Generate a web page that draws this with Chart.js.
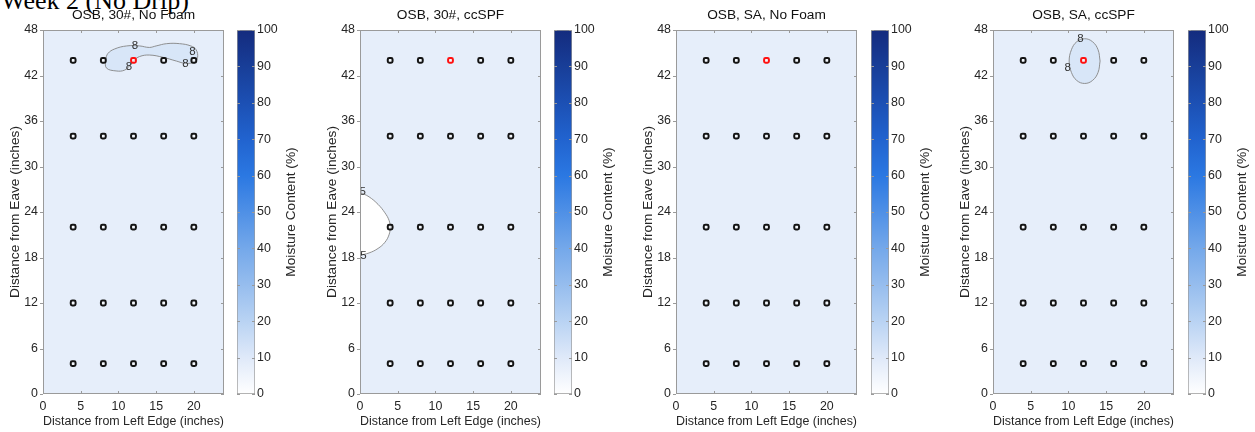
<!DOCTYPE html>
<html>
<head>
<meta charset="utf-8">
<script src="https://cdn.jsdelivr.net/npm/chart.js@4/dist/chart.umd.min.js"></script>
<style>
  html, body { margin: 0; padding: 0; background: #fff; }
  #wrap { position: relative; width: 1255px; height: 432px; overflow: hidden; }
  #wrap canvas { position: absolute; top: 0; }
  #suptitle {
    position: absolute; left: 1px; top: -12px; line-height: 26px;
    font-size: 26px; font-family: "Liberation Serif", "Times New Roman", serif;
    white-space: nowrap; color: #000;
  }
</style>
</head>
<body>
<div id="wrap">
  <div id="suptitle">Week 2 (No Drip)</div>
</div>
<script>
// sensor positions (inches)
var sensorX = [4, 8, 12, 16, 20];
var sensorY = [4, 12, 22, 34, 44];
var hotSensor = [12, 44]; // drawn red

var panelTitles = ['OSB, 30#, No Foam', 'OSB, 30#, ccSPF', 'OSB, SA, No Foam', 'OSB, SA, ccSPF'];

var xTitle = 'Distance from Left Edge (inches)';
var yTitle = 'Distance from Eave (inches)';
var cbarLabel = 'Moisture Content (%)';
var xMax = 24, xStep = 5;
var yMax = 48, yStep = 6;
var cbarMax = 100, cbarStep = 10;

// contour lines
var c1x = [8.3, 8.6, 9.5, 11.1, 12.8, 14.1, 15.0, 16.4, 18.1, 19.6, 20.3, 20.5, 20.1, 18.9, 17.7, 15.9, 14.1, 12.8, 12.1, 11.5, 10.8, 9.7, 8.4, 8.3];
var c1y = [44.1, 44.9, 45.5, 45.9, 45.9, 45.7, 45.9, 46.2, 46.2, 45.9, 45.4, 44.4, 43.8, 43.6, 43.9, 44.4, 44.7, 44.5, 44.0, 43.3, 42.7, 42.6, 43.0, 44.1];
var c1labels = [[12.2, 45.9, '8'], [11.4, 43.2, '8'], [18.9, 43.5, '8'], [19.8, 45.1, '8']];

var c2x = [0, 1.2, 2.4, 3.3, 3.85, 4.0, 3.85, 3.3, 2.4, 1.2, 0];
var c2y = [26.6, 26.0, 25.0, 23.9, 22.9, 22.0, 21.0, 20.0, 19.2, 18.6, 18.3];
var c2labels = [[0.35, 26.6, '5'], [0.45, 18.2, '5']];

var c4x = [14.2, 13.93, 13.2, 12.15, 11.1, 10.4, 10.1, 10.4, 11.1, 12.15, 13.2, 13.93, 14.2];
var c4y = [43.9, 45.4, 46.45, 46.85, 46.45, 45.4, 43.9, 42.4, 41.35, 40.95, 41.35, 42.4, 43.9];
var c4labels = [[11.6, 46.8, '8'], [9.9, 43.0, '8']];

// colormap stops (white -> blue -> navy)
var cmapLevels = [0, 10, 20, 30, 40, 50, 60, 70, 80, 90, 100];
var cmapColors = ['#ffffff', '#dfe9f9', '#b9d3f3', '#96bdee', '#74a8ea', '#4f90e6', '#2b78e2', '#2163cf', '#1c50b4', '#183e98', '#142b7e'];

var fam = '"Liberation Sans", Arial, Helvetica, sans-serif';
Chart.defaults.font.family = fam;
Chart.defaults.color = '#262626';

var panelLeft = [0, 317, 633, 950];
var cbarLeft = [237, 554, 871, 1188];
var plotBg = '#e6eefa';

var contours = [
  [{ x: c1x, y: c1y, fill: '#d8e6f8', labels: c1labels }],
  [{ x: c2x, y: c2y, fill: '#ffffff', labels: c2labels }],
  [],
  [{ x: c4x, y: c4y, fill: '#d8e6f8', labels: c4labels }]
];

var wrap = document.getElementById('wrap');
function addCanvas(left, w) {
  var c = document.createElement('canvas');
  c.width = w;
  c.height = 432;
  c.style.left = left + 'px';
  wrap.appendChild(c);
  return c;
}

function zip(xs, ys) {
  return xs.map(function (x, k) { return { x: x, y: ys[k] }; });
}

function panelPlugin(i) {
  return {
    id: 'panel' + i,
    beforeDraw: function (chart) {
      var a = chart.chartArea, ctx = chart.ctx;
      ctx.save();
      ctx.fillStyle = plotBg;
      ctx.fillRect(a.left, a.top, a.right - a.left, a.bottom - a.top);
      ctx.restore();
    },
    afterDatasetsDraw: function (chart) {
      var ctx = chart.ctx, sx = chart.scales.x, sy = chart.scales.y;
      ctx.save();
      ctx.font = '11.5px ' + fam;
      ctx.fillStyle = '#333';
      ctx.textAlign = 'center';
      ctx.textBaseline = 'middle';
      contours[i].forEach(function (c) {
        c.labels.forEach(function (l) {
          ctx.fillText(l[2], sx.getPixelForValue(l[0]), sy.getPixelForValue(l[1]));
        });
      });
      ctx.restore();
    },
    afterDraw: function (chart) {
      var a = chart.chartArea, ctx = chart.ctx, sx = chart.scales.x, sy = chart.scales.y;
      ctx.save();
      ctx.strokeStyle = '#9a9a9a';
      ctx.lineWidth = 1;
      ctx.beginPath();
      sx.ticks.forEach(function (t) {
        var px = Math.round(sx.getPixelForValue(t.value)) + 0.5;
        ctx.moveTo(px, a.bottom); ctx.lineTo(px, a.bottom - 3);
        ctx.moveTo(px, a.top); ctx.lineTo(px, a.top + 3);
      });
      sy.ticks.forEach(function (t) {
        var py = Math.round(sy.getPixelForValue(t.value)) + 0.5;
        ctx.moveTo(a.left - 3, py); ctx.lineTo(a.left, py);
        ctx.moveTo(a.right, py); ctx.lineTo(a.right - 3, py);
      });
      ctx.stroke();
      ctx.strokeRect(Math.round(a.left) + 0.5, Math.round(a.top) + 0.5,
        Math.round(a.right - a.left) - 1, Math.round(a.bottom - a.top) - 1);
      ctx.font = '13.7px ' + fam;
      ctx.fillStyle = '#111';
      ctx.textAlign = 'center';
      ctx.textBaseline = 'middle';
      ctx.fillText(panelTitles[i], (a.left + a.right) / 2, 15);
      ctx.restore();
    }
  };
}

function makePanel(i) {
  var pts = [];
  sensorY.forEach(function (y) {
    sensorX.forEach(function (x) {
      if (!(x === hotSensor[0] && y === hotSensor[1])) pts.push({ x: x, y: y });
    });
  });
  var datasets = [
    {
      data: pts, order: 0, pointStyle: 'rectRounded', pointRadius: 2.8, pointBorderWidth: 2,
      pointBorderColor: '#141414', pointBackgroundColor: 'rgba(255,255,255,0.6)'
    },
    {
      data: [{ x: hotSensor[0], y: hotSensor[1] }], order: 0, pointStyle: 'rectRounded', pointRadius: 2.8,
      pointBorderWidth: 2, pointBorderColor: '#ff1010', pointBackgroundColor: 'rgba(255,255,255,0.6)'
    }
  ];
  contours[i].forEach(function (c) {
    datasets.push({
      data: zip(c.x, c.y), order: 1, showLine: true, fill: 'shape', tension: 0.4,
      backgroundColor: c.fill, borderColor: '#858585', borderWidth: 0.9, pointRadius: 0
    });
  });

  new Chart(addCanvas(panelLeft[i], 230), {
    type: 'scatter',
    data: { datasets: datasets },
    options: {
      responsive: false,
      animation: false,
      events: [],
      layout: { padding: { top: 30, right: 6, left: 0, bottom: 0 } },
      plugins: { legend: { display: false }, tooltip: { enabled: false } },
      scales: {
        x: {
          type: 'linear', min: 0, max: xMax,
          ticks: { stepSize: xStep, includeBounds: false, padding: 5, maxRotation: 0, font: { size: 12.4 } },
          grid: { display: false, drawTicks: false },
          border: { display: false },
          title: { display: true, text: xTitle, font: { size: 13.7 }, padding: { top: 0, bottom: 3 } },
          afterFit: function (s) { s.height = 38; }
        },
        y: {
          type: 'linear', min: 0, max: yMax,
          ticks: { stepSize: yStep, padding: 5, font: { size: 12.4 } },
          grid: { display: false, drawTicks: false },
          border: { display: false },
          title: { display: true, text: yTitle, font: { size: 13.7 }, padding: { top: 7, bottom: 0 } },
          afterFit: function (s) { s.width = 43; }
        }
      }
    },
    plugins: [panelPlugin(i)]
  });
}

function cbarFill(ctx) {
  var chart = ctx.chart, sy = chart.scales.y;
  if (!chart.chartArea || !sy) return cmapColors[3];
  var g = chart.ctx.createLinearGradient(0, sy.getPixelForValue(0), 0, sy.getPixelForValue(cbarMax));
  cmapLevels.forEach(function (v, k) { g.addColorStop(v / cbarMax, cmapColors[k]); });
  return g;
}

var cbarPlugin = {
  id: 'cbarDeco',
  afterDraw: function (chart) {
    var a = chart.chartArea, ctx = chart.ctx, sy = chart.scales.y;
    ctx.save();
    ctx.strokeStyle = '#9a9a9a';
    ctx.lineWidth = 1;
    ctx.beginPath();
    sy.ticks.forEach(function (t) {
      var py = Math.round(sy.getPixelForValue(t.value)) + 0.5;
      ctx.moveTo(a.left, py); ctx.lineTo(a.left + 3, py);
      ctx.moveTo(a.right, py); ctx.lineTo(a.right - 3, py);
    });
    ctx.stroke();
    ctx.translate(a.left + 54, (a.top + a.bottom) / 2);
    ctx.rotate(-Math.PI / 2);
    ctx.font = '13.7px ' + fam;
    ctx.fillStyle = '#262626';
    ctx.textAlign = 'center';
    ctx.textBaseline = 'middle';
    ctx.fillText(cbarLabel, 0, 0);
    ctx.restore();
  }
};

function makeColorbar(i) {
  new Chart(addCanvas(cbarLeft[i], 70), {
    type: 'bar',
    data: {
      labels: [''],
      datasets: [{
        data: [cbarMax], backgroundColor: cbarFill, borderColor: '#9a9a9a', borderWidth: 1,
        borderSkipped: false, barPercentage: 1, categoryPercentage: 1
      }]
    },
    options: {
      responsive: false,
      animation: false,
      events: [],
      layout: { padding: { top: 30, bottom: 38, left: 0, right: 0 } },
      plugins: { legend: { display: false }, tooltip: { enabled: false } },
      scales: {
        x: { display: false },
        y: {
          position: 'right', min: 0, max: cbarMax,
          ticks: { stepSize: cbarStep, padding: 2, font: { size: 12.4 } },
          grid: { display: false, drawTicks: false },
          border: { display: false },
          afterFit: function (s) { s.width = 52; }
        }
      }
    },
    plugins: [cbarPlugin]
  });
}

for (var i = 0; i < 4; i++) {
  makePanel(i);
  makeColorbar(i);
}
</script>
</body>
</html>
